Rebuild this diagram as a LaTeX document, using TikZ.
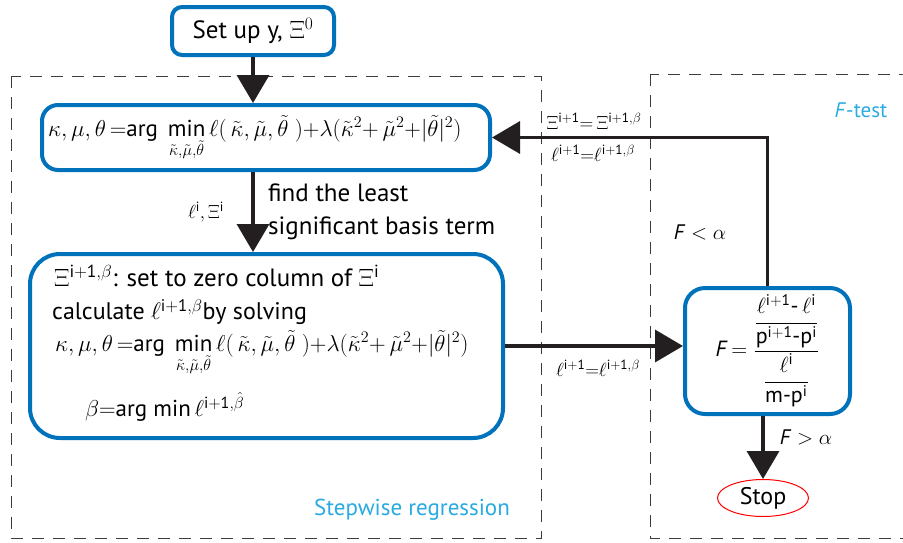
\documentclass[tikz,border=0pt]{standalone}
\usepackage{fix-cm}
\usepackage{amsmath}
\usepackage{fontspec}
\setmainfont{PT Sans}
\usetikzlibrary{arrows.meta,shapes.geometric}
\definecolor{boxblue}{RGB}{0,114,188}
\definecolor{cyantxt}{RGB}{41,171,226}
\definecolor{arrowgray}{RGB}{35,31,32}
\definecolor{dashgray}{RGB}{60,60,60}
\newcommand\argformula{\kappa,\mu,\theta\,{=}\mathrm{arg}\ \min\limits_{\tilde\kappa,\tilde\mu,\tilde\theta}\ell(\,\tilde\kappa,\tilde\mu,\tilde\theta\;){+}\lambda(\tilde\kappa^{2}{+}\,\tilde\mu^{2}{+}|\tilde\theta|^{2})}
\tikzset{
  bluebox/.style={draw=boxblue, line width=4pt, fill=white, inner sep=0pt},
  arr/.style={draw=arrowgray, line width=3.5pt, -{Triangle[length=28pt,width=32pt]}},
  dashbox/.style={draw=dashgray, line width=0.9pt, dash pattern=on 12pt off 9pt},
  txt/.style={font=\fontsize{25}{30}\selectfont, inner sep=0pt},
  mathtxt/.style={font=\fontsize{23}{28}\selectfont, inner sep=0pt},
  small/.style={font=\fontsize{19}{22}\selectfont, inner sep=0pt},
  cyanlbl/.style={font=\fontsize{21}{25}\selectfont, text=cyantxt, inner sep=0pt}
}
\begin{document}
\begin{tikzpicture}[x=1pt,y=-1pt]
\useasboundingbox (0,0) rectangle (903,542);
\fill[white] (0,0) rectangle (903,542);
% dashed regions
\draw[dashbox] (11,76) rectangle (541,538);
\draw[dashbox] (650,74) rectangle (915,538);
% boxes
\node[bluebox, rounded corners=10pt, minimum width=162pt, minimum height=48pt, font=\fontsize{25}{30}\selectfont] (setup) at (253,31) {Set up y, $\Xi^{0}$};
\node[bluebox, rounded corners=16pt, minimum width=448pt, minimum height=65pt] (b2) at (266,137.5) {};
\node[mathtxt, anchor=west] (f2) at (48,138) {$\argformula$};
\node[bluebox, rounded corners=30pt, minimum width=473pt, minimum height=184pt] (b3) at (266.5,346) {};
\node[txt, anchor=west] (l1) at (54,276) {$\Xi^{\mathrm{i+1},\beta}$: set to zero column of $\Xi^{\mathrm{i}}$};
\node[txt, font=\fontsize{24}{28}\selectfont, anchor=west] (l2) at (52,312) {calculate $\ell^{\mathrm{i+1},\beta}$by solving};
\node[mathtxt, anchor=west] (l3) at (55,353) {$\argformula$};
\node[txt, font=\fontsize{23}{28}\selectfont, anchor=west] (l4) at (85,407) {$\beta{=}\mathrm{arg}\ \mathrm{min}\,\ell^{\mathrm{i+1},\hat\beta}$};
\node[bluebox, rounded corners=20pt, minimum width=165pt, minimum height=126pt, font=\fontsize{22}{26}\selectfont] (fbox) at (767.5,351) {\textit{F}\,$=\dfrac{\dfrac{\ell^{\mathrm{i+1}}\mbox{-}\,\ell^{\mathrm{i}}}{\mathrm{p^{i+1}\mbox{-}p^{i}}}}{\dfrac{\ell^{\mathrm{i}}}{\mathrm{m\mbox{-}p^{i}}}}$};
\node[draw=red, line width=1pt, ellipse, minimum width=91pt, minimum height=37pt, inner sep=0pt, font=\fontsize{24}{28}\selectfont] (stop) at (763,498) {Stop};
% connectors
\draw[arr] (setup.south) -- (setup.south |- b2.north);
\draw[arr] (b2.south -| setup.south) -- (b3.north -| setup.south);
\draw[arr] (b3.east) -- (fbox.west |- b3.east);
\draw[arr] (fbox.north) |- (b2.east);
\draw[arr] (fbox.south -| stop.north) -- (stop.north);
% labels
\node[small] (lxi) at (206,212) {$\ell^{\mathrm{i}},\Xi^{\mathrm{i}}$};
\node[anchor=west, align=left, inner sep=0pt, font=\fontsize{25}{33}\selectfont] (find) at (268,212) {find the least\\significant basis term};
\node[small] (eqxi) at (594,121) {$\Xi^{\mathrm{i+1}}{=}\,\Xi^{\mathrm{i+1},\beta}$};
\node[small] (eql1) at (593,153) {$\ell^{\mathrm{i+1}}{=}\ell^{\mathrm{i+1},\beta}$};
\node[small] (eql2) at (598,368) {$\ell^{\mathrm{i+1}}{=}\ell^{\mathrm{i+1},\beta}$};
\node[font=\fontsize{21}{25}\selectfont, inner sep=0pt] (flt) at (700,232) {\textit{F} $<\alpha$};
\node[font=\fontsize{21}{25}\selectfont, inner sep=0pt] (fgt) at (806,437) {\textit{F} $>\alpha$};
\node[cyanlbl] (ftest) at (861,110) {\textit{F}-test};
\node[cyanlbl, font=\fontsize{23}{27}\selectfont] (stepw) at (412,510) {Stepwise regression};
\end{tikzpicture}
\end{document}
